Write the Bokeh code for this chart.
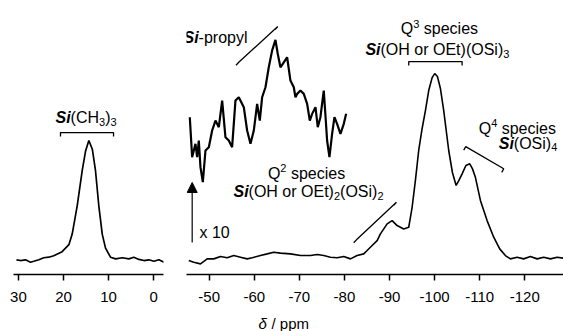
from bokeh.plotting import figure
from bokeh.models import Range1d, FixedTicker, Label, Arrow, NormalHead
from bokeh.layouts import row, column
from bokeh.embed import file_html
from bokeh.resources import INLINE

# ---------------- data ----------------
# Si(CH3)3 region (left panel)
tms_ppm = [30.44, 29.56, 28.44, 27.33, 26.60, 25.49, 24.38, 23.27, 22.16, 20.30,
           18.80, 18.07, 16.96, 15.84, 15.10, 14.37, 13.60, 12.90, 12.16, 11.40,
           10.67, 9.56, 8.44, 6.96, 5.49, 4.38, 3.27, 2.16, 1.04, -0.07, -1.18, -2.29]
tms_int = [-0.7, -1.1, -0.7, -2.0, -1.5, -0.7, 0.4, 0.7, 1.5, 3.7,
           7.5, 13.2, 28.5, 47.6, 58.1, 63.8, 59.1, 47.6, 28.5, 13.2,
           5.6, 0.7, -0.2, 0.4, -0.2, 0.7, -0.5, -1.1, -0.7, -1.5, -0.7, -2.0]

# Q region (right panel)
main_ppm = [-45.48, -46.58, -48.07, -49.56, -51.02, -52.51, -53.99, -55.46, -56.94, -58.43,
            -59.54, -61.38, -62.86, -64.33, -65.81, -68.03, -70.25, -72.47, -73.95, -75.42,
            -76.90, -78.39, -79.85, -81.34, -82.82, -84.29, -85.04, -86.15, -87.26, -87.99,
            -89.48, -90.59, -91.69, -93.16, -94.27, -95.02, -95.75, -96.48, -97.24, -97.97,
            -98.70, -99.46, -100.03, -100.63, -101.30, -102.03, -103.14, -103.96, -104.78, -105.40,
            -106.11, -106.95, -107.80, -108.39, -109.06, -110.17, -111.65, -113.12, -114.45, -115.71,
            -116.82, -118.31, -119.77, -121.26, -122.75, -124.21, -125.70, -127.18, -128.50]
main_int = [-1.1, -2.0, -2.9, -0.2, -0.2, 1.1, 0.4, 1.6, 0.7, -0.2,
            0.4, 1.6, 2.5, 3.4, 2.9, 2.5, 1.6, 1.6, 2.2, 1.6,
            0.7, 0.4, 1.1, -0.2, 1.6, 2.5, 4.3, 7.0, 9.7, 13.3,
            18.7, 20.5, 17.8, 16.0, 16.9, 27.7, 42.2, 58.4, 70.3, 80.0,
            90.8, 97.8, 100.0, 98.4, 91.9, 80.0, 58.4, 46.5, 39.5, 42.2,
            45.8, 50.3, 51.2, 48.6, 43.9, 31.4, 20.5, 11.5, 5.2, 1.6,
            -0.2, 0.7, -0.2, 1.1, -0.2, 0.7, -0.2, 0.7, 0.2]

# x10 expansion of the Si-propyl region (displayed, offset)
inset_ppm = [-45.70, -46.22, -46.96, -47.33, -47.70, -48.07, -48.59, -49.18, -49.92, -50.66,
             -51.40, -52.14, -52.88, -53.61, -54.35, -55.09, -55.83, -56.57, -57.68, -58.42,
             -59.16, -59.90, -60.64, -61.23, -61.75, -62.49, -63.22, -63.96, -64.70, -65.22,
             -65.81, -66.55, -67.29, -68.03, -68.77, -69.14, -69.51, -70.25, -70.99, -71.73,
             -72.32, -72.84, -73.58, -74.09, -74.68, -75.42, -75.87, -76.16, -76.68, -77.27,
             -77.79, -78.38, -79.12, -79.86, -80.38]
inset_int = [76.4, 54.8, 62.0, 54.8, 63.8, 49.4, 41.3, 58.4, 60.2, 69.2,
             74.6, 71.0, 85.4, 65.6, 63.8, 60.2, 85.4, 87.2, 81.8, 69.2,
             62.0, 69.2, 83.6, 74.6, 87.2, 92.6, 103.4, 112.4, 118.2, 110.6,
             103.4, 106.1, 108.8, 96.2, 92.6, 87.2, 89.0, 90.8, 89.0, 83.6,
             74.6, 78.2, 81.8, 71.0, 76.4, 90.8, 74.6, 63.8, 54.8, 67.4,
             76.4, 72.8, 67.4, 72.8, 78.2]

left_ticks = [30, 20, 10, 0]
right_ticks = [-50, -60, -70, -80, -90, -100, -110, -120]

FONT = "Liberation Sans"
H = 309
YR = (-8.65, 139.5)

# approximate advance widths (em) for Liberation Sans
W = {"(": .333, ")": .333, "C": .722, "H": .722, "O": .778, "E": .667, "t": .278,
     "r": .333, "o": .556, " ": .278, "S": .667, "i": .222, "Q": .778, "s": .5,
     "p": .556, "e": .556, "c": .5, "y": .5, "l": .222, "-": .333, "x": .5}
WB = {"S": .667, "i": .278}


def make_fig(width, xr, ticks, bl, br):
    p = figure(width=width, height=H, x_range=Range1d(*xr), y_range=Range1d(*YR),
               output_backend="svg", toolbar_location=None,
               min_border_left=bl, min_border_right=br, min_border_top=0, min_border_bottom=35)
    p.yaxis.visible = False
    p.xgrid.visible = False
    p.ygrid.visible = False
    p.outline_line_color = None
    p.background_fill_color = "white"
    p.border_fill_color = "white"
    ax = p.xaxis[0]
    ax.ticker = FixedTicker(ticks=ticks)
    ax.major_label_overrides = {t: str(t) for t in ticks}
    ax.minor_tick_line_color = None
    ax.major_tick_in = 0
    ax.major_tick_out = 6
    ax.axis_line_width = 1.5
    ax.major_tick_line_width = 1.5
    ax.major_label_text_font = FONT
    ax.major_label_text_font_size = "15px"
    ax.major_label_standoff = 11
    ax.major_label_text_color = "black"
    return p


def lab(p, x, y, text, size=16, style="normal", align="left", xoff=0, yoff=0):
    p.add_layout(Label(x=x, y=y, text=text, text_font=FONT, text_font_size=f"{size}px",
                       text_font_style=style, text_align=align, text_baseline="middle",
                       x_offset=xoff, y_offset=yoff, text_color="black"))


def rich(p, x, y, parts, align="left", size=16, small=11):
    """parts: list of (text, kind) with kind in b (bold italic), n, sub, sup"""
    items = []
    for t, k in parts:
        sz = small if k in ("sub", "sup") else size
        lead = len(t) - len(t.lstrip(" "))
        tbl = WB if k == "b" else W
        w = sum(tbl.get(c, .556) for c in t) * sz
        items.append((t.lstrip(" "), k, sz, lead * .278 * sz, w - lead * .278 * sz))
    total = sum(a + b for _, _, _, a, b in items)
    off = -total / 2 if align == "center" else 0
    for t, k, sz, lead_w, w in items:
        off += lead_w
        style = "bold italic" if k == "b" else "normal"
        yo = {"sub": -4, "sup": 5}.get(k, 0)
        lab(p, x, y, t, size=sz, style=style, xoff=off, yoff=yo)
        off += w


left = make_fig(178, (31.1, -2.2), left_ticks, 13, 15)
right = make_fig(385, (-44.97, -128.6), right_ticks, 8, 0)

left.line(tms_ppm, tms_int, line_color="black", line_width=1.7)
right.line(main_ppm, main_int, line_color="black", line_width=1.6)
right.line(inset_ppm, inset_int, line_color="black", line_width=2.2)

# Si(CH3)3 annotation
left.line([20.67, 20.67, 8.89, 8.89], [66.0, 68.1, 68.1, 66.0], line_color="black", line_width=1.3)
rich(left, 21.78, 76.2, [("Si", "b"), ("(CH", "n"), ("3", "sub"), (")", "n"), ("3", "sub")])

# Si-propyl
right.line([-55.96, -56.56, -65.21, -64.61], [104.5, 106.1, 125.4, 123.8], line_color="black", line_width=1.3)
rich(right, -44.3, 119.5, [("Si", "b"), ("-propyl", "n")])

# Q2
right.line([-82.07, -82.67, -91.54, -90.94], [8.5, 10.1, 30.4, 28.8], line_color="black", line_width=1.3)
rich(right, -71.6, 46.2, [("Q", "n"), ("2", "sup"), (" species", "n")], align="center")
rich(right, -55.39, 36.2, [("Si", "b"), ("(OH or OEt)", "n"), ("2", "sub"), ("(OSi)", "n"), ("2", "sub")])

# Q3
right.line([-94.27, -94.27, -106.11, -106.11], [104.3, 106.5, 106.5, 104.3], line_color="black", line_width=1.3)
rich(right, -101.08, 124.3, [("Q", "n"), ("3", "sup"), (" species", "n")], align="center")
rich(right, -84.66, 113.0, [("Si", "b"), ("(OH or OEt)(OSi)", "n"), ("3", "sub")])

# Q4
right.line([-106.47, -106.91, -115.34, -114.90], [58.6, 60.5, 48.5, 46.6], line_color="black", line_width=1.3)
rich(right, -109.79, 70.3, [("Q", "n"), ("4", "sup"), (" species", "n")])
rich(right, -114.23, 62.2, [("Si", "b"), ("(OSi)", "n"), ("4", "sub")])

# x10 arrow
right.add_layout(Arrow(x_start=-46.23, y_start=8.6, x_end=-46.23, y_end=41.1,
                       line_color="black", line_width=1.2,
                       end=NormalHead(size=10, fill_color="black", line_color="black")))
lab(right, -47.85, 13.8, "x 10")

# axis title strip
bottom = figure(width=563, height=22, x_range=Range1d(0, 563), y_range=Range1d(0, 22),
                output_backend="svg", toolbar_location=None,
                min_border_left=0, min_border_right=0, min_border_top=0, min_border_bottom=0)
bottom.axis.visible = False
bottom.xgrid.visible = False
bottom.ygrid.visible = False
bottom.outline_line_color = None
bottom.border_fill_color = "white"
lab(bottom, 258, 8, "\u03b4", size=15, style="italic")
lab(bottom, 258, 8, "/ ppm", size=15, xoff=13)

layout = column(row(left, right), bottom)
open("out.html", "w").write(file_html(layout, INLINE))
